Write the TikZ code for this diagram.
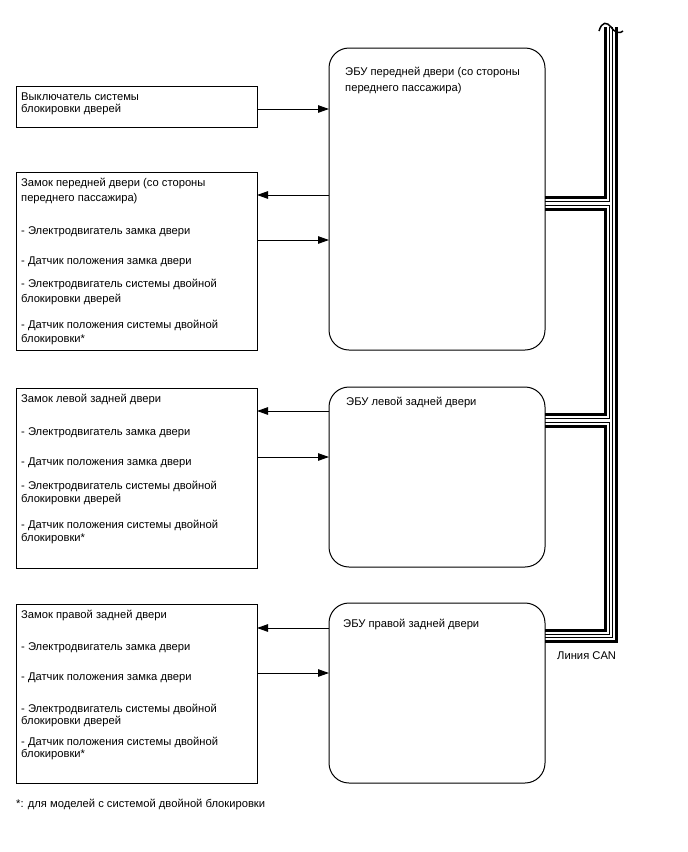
\documentclass[tikz,border=0pt]{standalone}
\usepackage{fontspec}
\setmainfont{Liberation Sans}
\usetikzlibrary{arrows.meta}
\begin{document}
\begin{tikzpicture}[x=1pt,y=-1pt,
  box/.style={draw,line width=1pt,outer sep=0pt,inner sep=0pt,anchor=north west},
  ecu/.style={draw,line width=1pt,outer sep=0pt,inner sep=0pt,anchor=north west,rounded corners=20pt},
  txt/.style={anchor=base west,inner sep=0pt,font=\fontsize{11.2}{13}\selectfont},
  sig/.style={line width=1pt,-{Triangle[length=11pt,width=7.5pt]}},
  thk/.style={line width=3pt},
  thn/.style={line width=1pt}]
\useasboundingbox (0,0) rectangle (688,852);

% boxes
\node[box,minimum width=241pt,minimum height=41pt] (sw) at (16,86) {};
\node[box,minimum width=241pt,minimum height=178pt] (l1) at (16,172) {};
\node[box,minimum width=241pt,minimum height=180pt] (l2) at (16,388) {};
\node[box,minimum width=241pt,minimum height=179pt] (l3) at (16,604) {};
\node[ecu,minimum width=216pt,minimum height=302pt] (e1) at (329,48) {};
\node[ecu,minimum width=216pt,minimum height=180pt] (e2) at (329,387) {};
\node[ecu,minimum width=216pt,minimum height=180pt] (e3) at (329,603) {};

% texts
\node[txt] (t01) at (21,100) {Выключатель системы};
\node[txt] (t02) at (21,112) {блокировки дверей};

\node[txt] (t11) at (21,186.5) {Замок передней двери (со стороны};
\node[txt] (t12) at (21,201.5) {переднего пассажира)};
\node[txt] (t13) at (21,234.5) {- Электродвигатель замка двери};
\node[txt] (t14) at (21,264.5) {- Датчик положения замка двери};
\node[txt] (t15) at (21,287.5) {- Электродвигатель системы двойной};
\node[txt] (t16) at (21,302) {блокировки дверей};
\node[txt] (t17) at (21,328.5) {- Датчик положения системы двойной};
\node[txt] (t18) at (21,342.5) {блокировки*};

\node[txt] (t21) at (21,402.5) {Замок левой задней двери};
\node[txt] (t22) at (21,435) {- Электродвигатель замка двери};
\node[txt] (t23) at (21,465) {- Датчик положения замка двери};
\node[txt] (t24) at (21,489.5) {- Электродвигатель системы двойной};
\node[txt] (t25) at (21,502.5) {блокировки дверей};
\node[txt] (t26) at (21,528.5) {- Датчик положения системы двойной};
\node[txt] (t27) at (21,541) {блокировки*};

\node[txt] (t31) at (21,618.5) {Замок правой задней двери};
\node[txt] (t32) at (21,650.5) {- Электродвигатель замка двери};
\node[txt] (t33) at (21,680.5) {- Датчик положения замка двери};
\node[txt] (t34) at (21,712) {- Электродвигатель системы двойной};
\node[txt] (t35) at (21,724.5) {блокировки дверей};
\node[txt] (t36) at (21,745) {- Датчик положения системы двойной};
\node[txt] (t37) at (21,757.5) {блокировки*};

\node[txt] (u11) at (345,75) {ЭБУ передней двери (со стороны};
\node[txt] (u12) at (345,91) {переднего пассажира)};
\node[txt] (u21) at (346,405) {ЭБУ левой задней двери};
\node[txt] (u31) at (343,627) {ЭБУ правой задней двери};

\node[txt] (fn) at (16,807) {*: для моделей с системой двойной блокировки};
\node[txt] (can) at (557,659) {Линия CAN};

% arrows
\coordinate (a0) at (0,109);
\coordinate (a1) at (0,195);
\coordinate (a2) at (0,240);
\coordinate (a3) at (0,411);
\coordinate (a4) at (0,457);
\coordinate (a5) at (0,628);
\coordinate (a6) at (0,673);
\draw[sig] (sw.east |- a0) -- (e1.west |- a0);
\draw[sig] (e1.west |- a1) -- (l1.east |- a1);
\draw[sig] (l1.east |- a2) -- (e1.west |- a2);
\draw[sig] (e2.west |- a3) -- (l2.east |- a3);
\draw[sig] (l2.east |- a4) -- (e2.west |- a4);
\draw[sig] (e3.west |- a5) -- (l3.east |- a5);
\draw[sig] (l3.east |- a6) -- (e3.west |- a6);

% CAN bus
\coordinate (top) at (0,27);
\coordinate (xa) at (605.5,0);
\coordinate (xb) at (609.5,0);
\coordinate (xc) at (612.5,0);
\coordinate (xd) at (616.5,0);
\coordinate (h1) at (0,197);
\coordinate (h2) at (0,201);
\coordinate (h3) at (0,205);
\coordinate (h4) at (0,209);
\coordinate (h5) at (0,414);
\coordinate (h6) at (0,418);
\coordinate (h7) at (0,422);
\coordinate (h8) at (0,426);
\coordinate (h9) at (0,630);
\coordinate (h10) at (0,634);
\coordinate (h11) at (0,637.5);
\coordinate (h12) at (0,641.5);
% stub wire (left pair)
\draw[thk] (xa |- top) -- (xa |- h1) -- (e1.east |- h1);
\draw[thn] (xb |- top) -- (xb |- h2) -- (e1.east |- h2);
\draw[thn] (e1.east |- h3) -- (xb |- h3) -- (xb |- h6) -- (e2.east |- h6);
\draw[thk] (e1.east |- h4) -- (xa |- h4) -- (xa |- h5) -- (e2.east |- h5);
\draw[thn] (e2.east |- h7) -- (xb |- h7) -- (xb |- h10) -- (e3.east |- h10);
\draw[thk] (e2.east |- h8) -- (xa |- h8) -- (xa |- h9) -- (e3.east |- h9);
% through wire (right pair)
\draw[thn] (xc |- top) -- (xc |- h11) -- (e3.east |- h11);
\draw[thk] (xd |- top) -- (xd |- h12) -- (e3.east |- h12);
% break mark
\coordinate (w0) at (599,31);
\coordinate (w1) at (623,31);
\draw[line width=1.5pt] (w0) .. controls (602,21) and (607,22) .. (611,27) .. controls (615,33) and (620,34) .. (w1);
\end{tikzpicture}
\end{document}
